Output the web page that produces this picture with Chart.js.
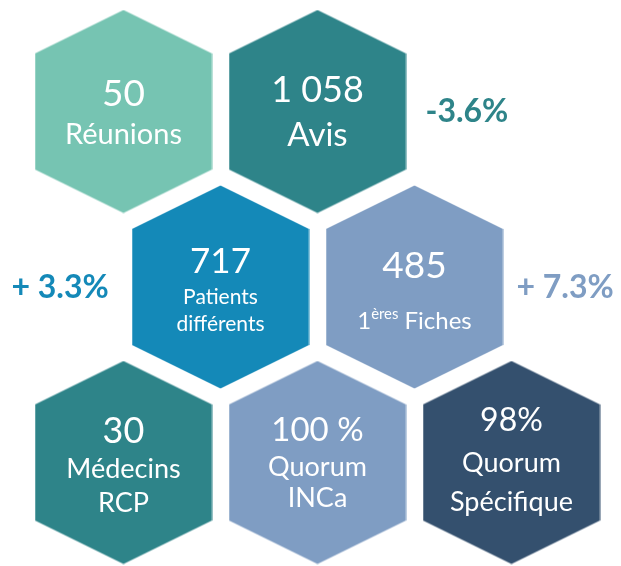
<!DOCTYPE html>
<html>
<head>
<meta charset="utf-8">
<script src="https://cdn.jsdelivr.net/npm/chart.js@4"></script>
<style>
  body { margin: 0; background: #fff; }
  #wrap { width: 621px; height: 566px; }
</style>
</head>
<body>
<div id="wrap"><canvas id="hexChart" width="621" height="566"></canvas></div>
<script>
// hex grid position (column / row) of every tile
const hexCol = [0, 1, 0.5, 1.5, 0, 1, 2];
const hexRow = [0, 0, 1, 1, 2, 2, 2];
const hexValues = ['50', '1 058', '717', '485', '30', '100 %', '98%'];
const hexLabels = [
    ['Réunions'],
    ['Avis'],
    ['Patients', 'différents'],
    ['1<sup>ères</sup> Fiches'],
    ['Médecins', 'RCP'],
    ['Quorum', 'INCa'],
    ['Quorum', 'Spécifique']
];
// evolution labels
const trendCol = [1.77, -0.327, 2.276];
const trendRow = [0, 1, 1];
const trendText = ['-3.6%', '+ 3.3%', '+ 7.3%'];

// styles
const hexColors = ['#76c4b2', '#2e8489', '#1489b8', '#7f9dc3', '#2e8489', '#7f9dc3', '#34506e'];
const trendColors = ['#2e8489', '#1489b8', '#7f9dc3'];
const valueSize = [37, 36, 35, 37, 36, 33, 32];
const labelSize = [29, 33, 21, 24, 27, 27, 27];
// baseline offsets from tile centre: value first, then label lines
const lineOffsets = [
    [-5.5, 32.5],
    [-9.5, 34.5],
    [-14.5, 16.5, 43.5],
    [-9.5, 41.5],
    [-19.5, 15.5, 49.5],
    [-21.5, 13.5, 44.5],
    [-31.5, 9.5, 48.5]
];
const FONT = 'Lato, "Open Sans", sans-serif';

function hexImage(color) {
    const w = 177, h = 203, s = 43.5;
    const c = document.createElement('canvas');
    c.width = 178;
    c.height = 204;
    const g = c.getContext('2d');
    g.fillStyle = color;
    g.beginPath();
    g.moveTo(w / 2 + 0.5, 0.5);
    g.lineTo(w + 0.5, s + 0.5);
    g.lineTo(w + 0.5, h - s + 0.5);
    g.lineTo(w / 2 + 0.5, h + 0.5);
    g.lineTo(0.5, h - s + 0.5);
    g.lineTo(0.5, s + 0.5);
    g.closePath();
    g.fill();
    return c;
}

function drawRich(ctx, str, x, y, size) {
    // supports a single <sup>..</sup> run
    const parts = str.split(/<sup>|<\/sup>/);
    const segs = parts.map((t, i) => ({ t: t, sup: i % 2 === 1 }));
    let total = 0;
    segs.forEach(sg => {
        ctx.font = (sg.sup ? size * 0.62 : size) + 'px ' + FONT;
        sg.w = ctx.measureText(sg.t).width;
        total += sg.w;
    });
    let cx = x - total / 2;
    ctx.textAlign = 'left';
    segs.forEach(sg => {
        ctx.font = (sg.sup ? size * 0.62 : size) + 'px ' + FONT;
        ctx.fillText(sg.t, cx, sg.sup ? y - size * 0.4 : y);
        cx += sg.w;
    });
    ctx.textAlign = 'center';
}

const textPlugin = {
    id: 'hexText',
    afterDatasetsDraw(chart) {
        const ctx = chart.ctx;
        const xs = chart.scales.x, ys = chart.scales.y;
        ctx.save();
        ctx.textAlign = 'center';
        ctx.textBaseline = 'alphabetic';
        ctx.fillStyle = '#ffffff';
        for (let i = 0; i < hexValues.length; i++) {
            const px = xs.getPixelForValue(hexCol[i]);
            const py = ys.getPixelForValue(hexRow[i]);
            const off = lineOffsets[i];
            ctx.font = valueSize[i] + 'px ' + FONT;
            ctx.fillText(hexValues[i], px, py + off[0]);
            hexLabels[i].forEach((line, j) => {
                drawRich(ctx, line, px, py + off[j + 1], labelSize[i]);
            });
        }
        for (let i = 0; i < trendText.length; i++) {
            const px = xs.getPixelForValue(trendCol[i]);
            const py = ys.getPixelForValue(trendRow[i]);
            ctx.fillStyle = trendColors[i];
            ctx.font = 'bold 32px ' + FONT;
            ctx.fillText(trendText[i], px, py + 10.5);
        }
        ctx.restore();
    }
};

const ctx = document.getElementById('hexChart');
new Chart(ctx, {
    type: 'scatter',
    data: {
        datasets: [
            {
                data: hexCol.map((c, i) => ({ x: c, y: hexRow[i] })),
                pointStyle: hexColors.map(hexImage),
                pointRadius: 10,
                clip: false
            },
            {
                data: trendCol.map((c, i) => ({ x: c, y: trendRow[i] })),
                pointRadius: 0
            }
        ]
    },
    options: {
        responsive: false,
        animation: false,
        events: [],
        layout: { padding: 0, autoPadding: false },
        plugins: {
            legend: { display: false },
            tooltip: { enabled: false }
        },
        scales: {
            x: {
                display: false,
                min: -123.5 / 194,
                max: (621 - 123.5) / 194
            },
            y: {
                display: false,
                reverse: true,
                min: -111.5 / 175.5,
                max: (566 - 111.5) / 175.5
            }
        }
    },
    plugins: [textPlugin]
});
</script>
</body>
</html>
